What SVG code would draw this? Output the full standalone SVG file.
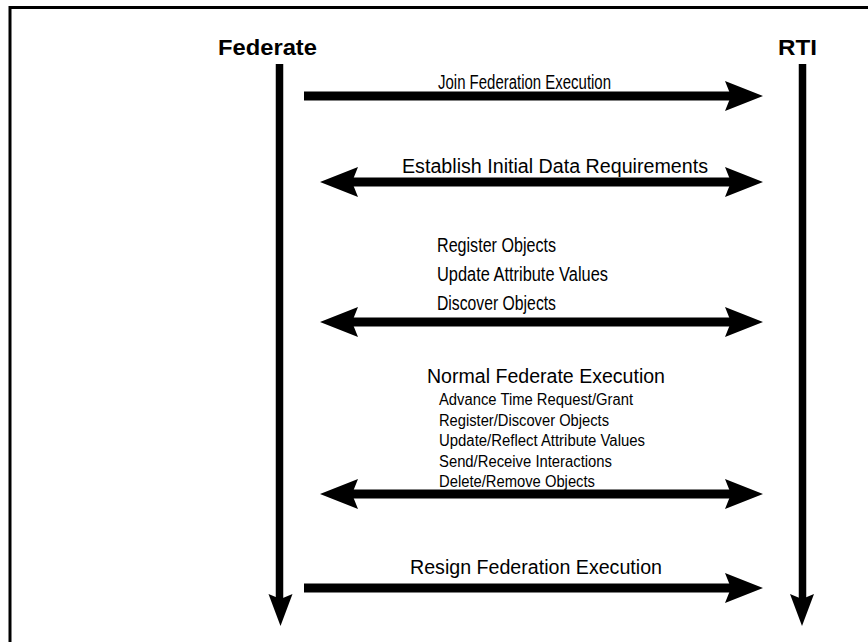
<svg xmlns="http://www.w3.org/2000/svg" width="868" height="642" viewBox="0 0 868 642">
<style>
text{font-family:"Liberation Sans",Arial,Helvetica,sans-serif;fill:#000}
.title{font-weight:bold;font-size:22px}
.lbl{font-size:20px}
.sub{font-size:16px}
.shaft{stroke:#000;stroke-width:9;fill:none}
.life{stroke:#000;stroke-width:7.5;fill:none}
.head{fill:#000}
</style>
<defs>
<path id="ah" d="M0,0 L-38,-15 L-32,0 L-38,15 Z"/>
<path id="dh" d="M0,0 L-12,-32 L0,-27 L12,-32 Z"/>
</defs>
<rect width="868" height="642" fill="#fff"/>
<path d="M10,660 L10,7.5 L880,7.5" fill="none" stroke="#000" stroke-width="3"/>

<g id="federate">
<text class="title" x="218" y="55" textLength="99" lengthAdjust="spacingAndGlyphs">Federate</text>
</g>
<g id="rti">
<text class="title" x="778" y="55" textLength="39" lengthAdjust="spacingAndGlyphs">RTI</text>
</g>

<g id="connectors">
<line class="life" x1="279.5" y1="64" x2="279.5" y2="602"/>
<use href="#dh" class="head" transform="translate(280.5,626)"/>
<line class="life" x1="802.5" y1="64" x2="802.5" y2="602"/>
<use href="#dh" class="head" transform="translate(802,626)"/>

<g id="join-msg">
<line class="shaft" x1="304" y1="96" x2="732" y2="96"/>
<use href="#ah" class="head" transform="translate(763,96)"/>
</g>
<g id="establish-msg">
<line class="shaft" x1="352" y1="182" x2="732" y2="182"/>
<use href="#ah" class="head" transform="translate(763,182)"/>
<use href="#ah" class="head" transform="translate(320,182) rotate(180)"/>
</g>
<g id="register-msg">
<line class="shaft" x1="352" y1="322" x2="732" y2="322"/>
<use href="#ah" class="head" transform="translate(763,322)"/>
<use href="#ah" class="head" transform="translate(320,322) rotate(180)"/>
</g>
<g id="normal-msg">
<line class="shaft" x1="352" y1="494" x2="732" y2="494"/>
<use href="#ah" class="head" transform="translate(763,494)"/>
<use href="#ah" class="head" transform="translate(320,494) rotate(180)"/>
</g>
<g id="resign-msg">
<line class="shaft" x1="304" y1="588" x2="732" y2="588"/>
<use href="#ah" class="head" transform="translate(763,588)"/>
</g>
</g>

<g id="labels">
<text class="lbl" x="438" y="89" textLength="173" lengthAdjust="spacingAndGlyphs">Join Federation Execution</text>
<text class="lbl" x="402" y="173" textLength="306" lengthAdjust="spacingAndGlyphs">Establish Initial Data Requirements</text>
<text class="lbl" x="437" y="252" textLength="119" lengthAdjust="spacingAndGlyphs">Register Objects</text>
<text class="lbl" x="437" y="281" textLength="171" lengthAdjust="spacingAndGlyphs">Update Attribute Values</text>
<text class="lbl" x="437" y="310" textLength="119" lengthAdjust="spacingAndGlyphs">Discover Objects</text>
<text class="lbl" x="427" y="383" textLength="238" lengthAdjust="spacingAndGlyphs">Normal Federate Execution</text>
<text class="sub" x="439" y="405" textLength="194" lengthAdjust="spacingAndGlyphs">Advance Time Request/Grant</text>
<text class="sub" x="439" y="425.5" textLength="170" lengthAdjust="spacingAndGlyphs">Register/Discover Objects</text>
<text class="sub" x="439" y="446" textLength="206" lengthAdjust="spacingAndGlyphs">Update/Reflect Attribute Values</text>
<text class="sub" x="439" y="466.5" textLength="173" lengthAdjust="spacingAndGlyphs">Send/Receive Interactions</text>
<text class="sub" x="439" y="487" textLength="156" lengthAdjust="spacingAndGlyphs">Delete/Remove Objects</text>
<text class="lbl" x="410" y="574" textLength="252" lengthAdjust="spacingAndGlyphs">Resign Federation Execution</text>
</g>
</svg>
